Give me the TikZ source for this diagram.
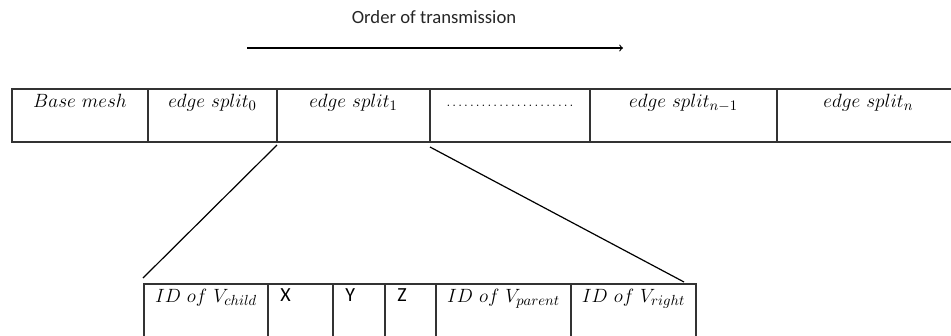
\documentclass[tikz,border=0pt]{standalone}
\usepackage{fontspec}
\newfontfamily\calibri{Carlito}
\usetikzlibrary{positioning}
\usetikzlibrary{calc}

\begin{document}
\begin{tikzpicture}[x=0.75pt,y=-0.75pt,
  cell/.style={rectangle,draw=black!80,line width=0.9pt,outer sep=0pt,inner sep=0pt,minimum height=39.75pt},
  lowcell/.style={cell,minimum height=60pt},
  headtext/.style={label={[anchor=north,inner sep=0pt,yshift=-3.5pt,font=\fontsize{15}{17}\selectfont]north:#1}},
  sidetext/.style={label={[anchor=north west,inner sep=0pt,xshift=9pt,yshift=-3pt,font=\calibri\fontsize{15}{17}\selectfont]north west:#1}},
  node distance = 0pt]
  \useasboundingbox (0,0) rectangle (951,336);
  % order of transmission
  \node[font=\calibri\fontsize{14}{16}\selectfont,text=black!85] (order) at (434,17) {Order of transmission};
  \coordinate (orderstart) at (247,48);
  \coordinate (orderend) at (623,48);
  \draw[line width=0.9pt,->] (orderstart) -- (orderend);
  % stream
  \node[cell,minimum width=102pt,anchor=north west,headtext={$Base\ mesh$}] (base) at (12,89) {};
  \node[cell,minimum width=96.75pt,headtext={$edge\ split_0$}] (split0) [right = of base] {};
  \node[cell,minimum width=114.75pt,headtext={$edge\ split_1$}] (split1) [right = of split0] {};
  \node[cell,minimum width=120pt,label={[anchor=north,inner sep=0pt,yshift=-12pt]north:\makebox[99pt]{\dotfill}}] (gap) [right = of split1] {};
  \node[cell,minimum width=140.25pt,headtext={$edge\ split_{n-1}$}] (splitm) [right = of gap] {};
  \node[cell,minimum width=137pt,headtext={$edge\ split_n$}] (splitn) [right = of splitm] {};
  % one edge split record
  \node[lowcell,minimum width=93pt,anchor=north west,headtext={$ID\ of\ V_{child}$}] (vchild) at (144,284) {};
  \node[lowcell,minimum width=48.75pt,sidetext={X}] (vx) [right = of vchild] {};
  \node[lowcell,minimum width=39pt,sidetext={Y}] (vy) [right = of vx] {};
  \node[lowcell,minimum width=38.25pt,sidetext={Z}] (vz) [right = of vy] {};
  \node[lowcell,minimum width=101.25pt,headtext={$ID\ of\ V_{parent}$}] (vparent) [right = of vz] {};
  \node[lowcell,minimum width=93.75pt,headtext={$ID\ of\ V_{right}$}] (vright) [right = of vparent] {};
  \draw[line width=0.9pt] ($(split1.south west)+(0,3)$) -- ($(vchild.north west)+(-1,-6)$);
  \draw[line width=0.9pt] ($(gap.south west)+(0,5)$) -- ($(vright.north east)+(-12,-2)$);
\end{tikzpicture}
\end{document}
